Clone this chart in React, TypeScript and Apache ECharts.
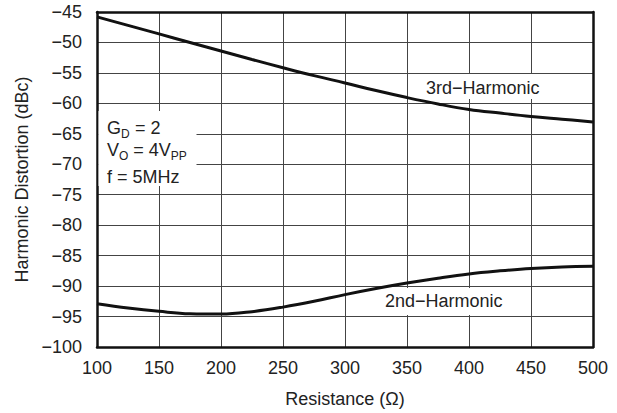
import React, { useEffect, useRef } from "react";
import * as echarts from "echarts";

const resistance = [100, 125, 150, 175, 200, 225, 250, 275, 300, 325, 350, 375, 400, 425, 450, 475, 500];
const thirdHarmonic = [-45.8, -47.2, -48.6, -50.0, -51.4, -52.8, -54.15, -55.45, -56.65, -57.9, -59.05, -60.1, -61.0, -61.6, -62.15, -62.6, -63.05];
const secondHarmonic = [-92.9, -93.6, -94.15, -94.55, -94.6, -94.2, -93.45, -92.5, -91.4, -90.4, -89.5, -88.7, -88.0, -87.5, -87.1, -86.85, -86.75];

const xTicks = { min: 100, max: 500, interval: 50 };
const yTicks = { min: -100, max: -45, interval: 5 };

const FONT = "'Liberation Sans', Arial, Helvetica, sans-serif";
const TXT = "#222";

const fmtNeg = (v: number) => (v < 0 ? "\u2212" : "") + Math.abs(v);

function txt(x: number, y: number, text: string, size = 18) {
  return {
    type: "text",
    x,
    y,
    z: 6,
    style: { text, fontSize: size, fontFamily: FONT, fill: TXT, align: "left", verticalAlign: "middle" },
  };
}

export default function App() {
  const ref = useRef<HTMLDivElement>(null);
  useEffect(() => {
    if (!ref.current) return;
    const chart = echarts.init(ref.current, null, { renderer: "svg" });
    const axisLabel = { fontSize: 18, fontFamily: FONT, color: TXT };
    const lineStyle = { color: "#111", width: 3 };
    chart.setOption({
      animation: false,
      backgroundColor: "#fff",
      grid: { left: 97, right: 24, top: 12, bottom: 66, show: false },
      xAxis: [
        {
          type: "value",
          ...xTicks,
          name: "Resistance (\u03A9)",
          nameLocation: "middle",
          nameGap: 43,
          nameTextStyle: { fontSize: 18, fontFamily: FONT, color: TXT },
          axisLine: { show: true, lineStyle: { color: "#111", width: 2.5 } },
          axisTick: { show: false },
          axisLabel: { ...axisLabel, margin: 12 },
          splitLine: { show: true, lineStyle: { color: "#444", width: 1 } },
        },
        {
          type: "value",
          position: "top",
          ...xTicks,
          axisLine: { show: true, onZero: false, lineStyle: { color: "#111", width: 2.5 } },
          axisTick: { show: false },
          axisLabel: { show: false },
          splitLine: { show: false },
        },
      ],
      yAxis: [
        {
          type: "value",
          ...yTicks,
          name: "Harmonic Distortion (dBc)",
          nameLocation: "middle",
          nameGap: 65,
          nameTextStyle: { fontSize: 18, fontFamily: FONT, color: TXT },
          axisLine: { show: true, onZero: false, lineStyle: { color: "#111", width: 2.5 } },
          axisTick: { show: false },
          axisLabel: { ...axisLabel, margin: 15, formatter: fmtNeg },
          splitLine: { show: true, lineStyle: { color: "#444", width: 1 } },
        },
        {
          type: "value",
          position: "right",
          ...yTicks,
          axisLine: { show: true, onZero: false, lineStyle: { color: "#111", width: 2.5 } },
          axisTick: { show: false },
          axisLabel: { show: false },
          splitLine: { show: false },
        },
      ],
      series: [
        {
          type: "line",
          name: "3rd-Harmonic",
          data: resistance.map((r, i) => [r, thirdHarmonic[i]]),
          smooth: 0.4,
          symbol: "none",
          z: 10,
          lineStyle,
        },
        {
          type: "line",
          name: "2nd-Harmonic",
          data: resistance.map((r, i) => [r, secondHarmonic[i]]),
          smooth: 0.4,
          symbol: "none",
          z: 10,
          lineStyle,
        },
      ],
      graphic: [
        { type: "rect", z: 5, shape: { x: 98.5, y: 111, width: 98, height: 75 }, style: { fill: "#fff" } },
        { type: "rect", z: 5, shape: { x: 424, y: 74, width: 125, height: 25 }, style: { fill: "#fff" } },
        { type: "rect", z: 5, shape: { x: 381, y: 288, width: 130, height: 27 }, style: { fill: "#fff" } },
        txt(426, 87.5, "3rd\u2212Harmonic"),
        txt(385, 301, "2nd\u2212Harmonic"),
        txt(107, 127.5, "G"),
        txt(121, 133.5, "D", 12),
        txt(130, 127.5, " = 2"),
        txt(107, 150, "V"),
        txt(119, 156, "O", 12),
        txt(128.3, 150, " = 4V"),
        txt(170.8, 156, "PP", 12),
        txt(107, 176.5, "f = 5MHz"),
      ],
    });
    return () => chart.dispose();
  }, []);
  return <div ref={ref} style={{ position: "fixed", left: 0, top: 0, width: 617, height: 413 }} />;
}
